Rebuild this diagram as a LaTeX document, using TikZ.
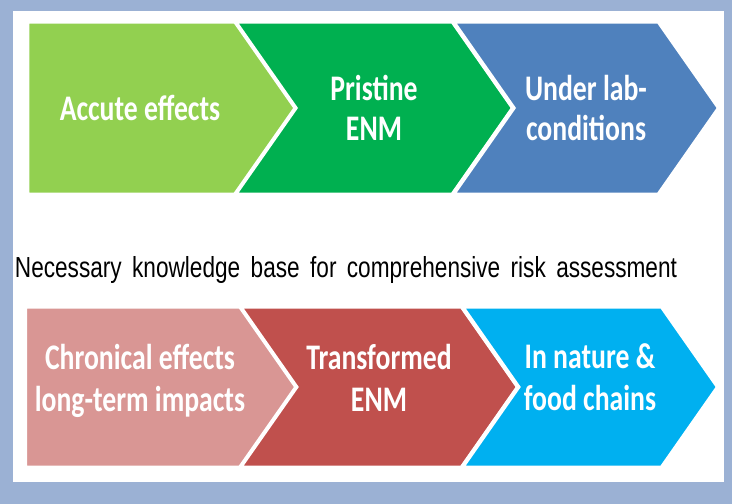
\documentclass[tikz,border=0pt]{standalone}
\usepackage{fontspec}
\setmainfont[FakeStretch=0.78]{Liberation Sans}
\newfontfamily\chevfont[FakeStretch=0.77]{Carlito}
\usepackage{xcolor}
\definecolor{framegray}{RGB}{155,177,212}
\definecolor{acutegreen}{RGB}{146,208,80}
\definecolor{pristgreen}{RGB}{0,176,80}
\definecolor{labblue}{RGB}{79,129,189}
\definecolor{chronpink}{RGB}{217,150,148}
\definecolor{transred}{RGB}{192,80,77}
\definecolor{naturecyan}{RGB}{0,176,240}
\usepackage{tikz}
\usetikzlibrary{positioning, shapes.symbols}
\newcommand{\widewords}{\spaceskip=10.4pt plus 1pt\relax}

\begin{document}
\begin{tikzpicture}[
    x=1pt, y=-1pt,
    node distance=212pt, on grid,
    chev/.style={signal, signal from=west, signal to=east, signal pointer angle=110,
                 draw=white, line width=4pt, minimum width=266pt, minimum height=173pt,
                 inner sep=0pt, align=center, text=white,
                 font=\chevfont\bfseries\fontsize{36}{40}\selectfont},
    firstchev/.style={chev, signal from=nowhere, minimum width=286pt},
    midchev/.style={minimum width=278pt},
    lowchev/.style={minimum height=161pt, text depth=19pt,
                    font=\chevfont\bfseries\fontsize{36}{42}\selectfont},
    caption/.style={font=\fontsize{29}{32}\selectfont, inner sep=0pt},
  ]
    % --- frame ---
    \fill[framegray] (0,0) rectangle (732,504);
    \fill[white] (13,11) rectangle (724,482);

    % --- upper row: short-term view ---
    \node[firstchev, fill=acutegreen]                  (acute)    at (140,108) {Accute effects};
    \node[chev, midchev, fill=pristgreen, right=234pt of acute] (pristine) {Pristine\\ENM};
    \node[chev, fill=labblue, right=of pristine]       (lab)      {Under lab-\\conditions};

    % --- middle caption ---
    \node[caption] (base) at (346,270)
      {\widewords Necessary knowledge base for comprehensive risk assessment};

    % --- lower row: long-term view ---
    \node[firstchev, lowchev, fill=chronpink]          (chronic)  at (140,387)
      {Chronical effects\\long-term impacts};
    \node[chev, midchev, lowchev, fill=transred, right=239pt of chronic] (transformed)
      {Transformed\\ENM};
    \node[chev, lowchev, minimum width=256pt, fill=naturecyan, right=211pt of transformed] (nature)
      {In nature \&\\food chains};
  \end{tikzpicture}
\end{document}
